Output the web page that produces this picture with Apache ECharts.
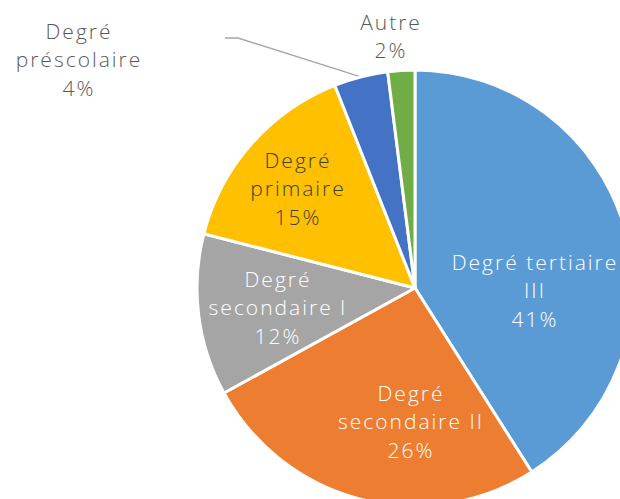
<!DOCTYPE html>
<html>
<head>
<meta charset="utf-8">
<script src="https://cdn.jsdelivr.net/npm/echarts@6/dist/echarts.min.js"></script>
<style>
html,body{margin:0;padding:0;background:#fff;}
#chart{width:620px;height:499px;}
#chart text{letter-spacing:2px;}
</style>
</head>
<body>
<div id="chart"></div>
<script>
// Data (clockwise from top)
const categories = ['Degré tertiaire\nIII', 'Degré\nsecondaire II', 'Degré\nsecondaire I', 'Degré\nprimaire', 'Degré\npréscolaire', 'Autre'];
const values = [41, 26, 12, 15, 4, 2];

// Styling / label placement (kept apart from data)
const colors = ['#5B9BD5', '#ED7D31', '#A5A5A5', '#FFC000', '#4472C4', '#70AD47'];
const labelColors = ['#FFFFFF', '#FFFFFF', '#FFFFFF', '#404040', '#595959', '#595959'];
const labelCenters = [[535, 290], [411, 421], [278, 307], [298, 188], [79, 59], [391, 36]];
const leaderBend = [[238, 38], [225, 38]];

const chart = echarts.init(document.getElementById('chart'), null, {renderer: 'svg'});
const data = categories.map((c, i) => ({
  name: c,
  value: values[i],
  itemStyle: {color: colors[i]},
  label: {
    color: labelColors[i],
    position: i >= 4 ? 'outside' : 'inside'
  },
  labelLine: {show: i === 4, lineStyle: {color: '#A6A6A6', width: 1.5}}
}));

chart.setOption({
  animation: false,
  series: [{
    type: 'pie',
    center: [415, 288],
    radius: 218,
    startAngle: 90,
    clockwise: true,
    avoidLabelOverlap: false,
    itemStyle: {borderColor: '#FFFFFF', borderWidth: 3},
    label: {
      show: true,
      fontFamily: 'Open Sans',
      fontWeight: 300,
      fontSize: 21,
      lineHeight: 28.5,
      align: 'center',
      formatter: p => p.name + '\n' + p.value + '%'
    },
    labelLine: {show: false},
    labelLayout: function (params) {
      const i = params.dataIndex;
      const c = labelCenters[i];
      const res = {x: c[0], y: c[1], align: 'center', verticalAlign: 'middle'};
      if (i === 4 && params.labelLinePoints) {
        res.labelLinePoints = [params.labelLinePoints[0], leaderBend[0], leaderBend[1]];
      }
      return res;
    },
    data: data
  }]
});
</script>
</body>
</html>
